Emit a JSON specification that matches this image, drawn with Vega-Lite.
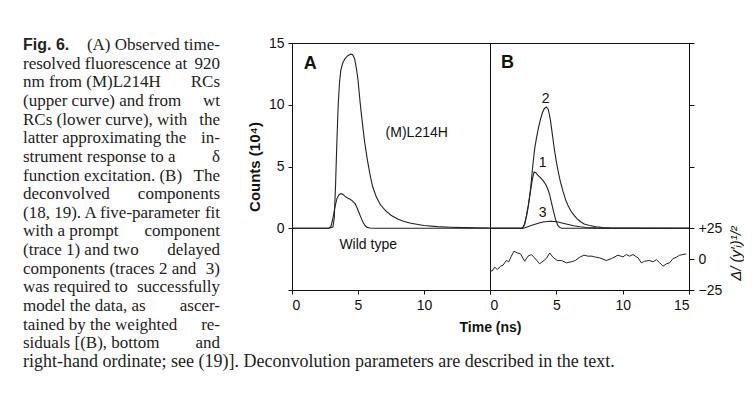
{
  "$schema": "https://vega.github.io/schema/vega-lite/v6.json",
  "background": "white",
  "padding": {"left": 23, "top": 35, "right": 0, "bottom": 0},
  "bounds": "flush",
  "spacing": 0,
  "config": {
    "font": "Liberation Sans",
    "view": {"stroke": "#111", "strokeWidth": 1},
    "axis": {
      "domainColor": "#111", "tickColor": "#111", "labelColor": "#111", "titleColor": "#111",
      "labelFont": "Liberation Sans", "labelFontSize": 14, "grid": false, "tickSize": 4,
      "labelPadding": 4, "titleFont": "Liberation Sans", "titleFontSize": 14, "titleFontWeight": "bold"
    }
  },
  "datasets": {
    "caption": [
      {"line": 1, "lead": "Fig. 6.", "head": "", "tail": "(A) Observed time-", "full": ""},
      {"line": 2, "lead": "", "head": "resolved fluorescence at", "tail": "920", "full": ""},
      {"line": 3, "lead": "", "head": "nm from (M)L214H", "tail": "RCs", "full": ""},
      {"line": 4, "lead": "", "head": "(upper curve) and from", "tail": "wt", "full": ""},
      {"line": 5, "lead": "", "head": "RCs (lower curve), with", "tail": "the", "full": ""},
      {"line": 6, "lead": "", "head": "latter approximating the", "tail": "in-", "full": ""},
      {"line": 7, "lead": "", "head": "strument response to a", "tail": "δ", "full": ""},
      {"line": 8, "lead": "", "head": "function excitation. (B)", "tail": "The", "full": ""},
      {"line": 9, "lead": "", "head": "deconvolved", "tail": "components", "full": ""},
      {"line": 10, "lead": "", "head": "(18, 19). A five-parameter", "tail": "fit", "full": ""},
      {"line": 11, "lead": "", "head": "with a prompt", "tail": "component", "full": ""},
      {"line": 12, "lead": "", "head": "(trace 1) and two", "tail": "delayed", "full": ""},
      {"line": 13, "lead": "", "head": "components (traces 2 and", "tail": "3)", "full": ""},
      {"line": 14, "lead": "", "head": "was required to", "tail": "successfully", "full": ""},
      {"line": 15, "lead": "", "head": "model the data, as", "tail": "ascer-", "full": ""},
      {"line": 16, "lead": "", "head": "tained by the weighted", "tail": "re-", "full": ""},
      {"line": 17, "lead": "", "head": "siduals [(B), bottom", "tail": "and", "full": ""},
      {"line": 18, "lead": "", "head": "", "tail": "", "full": "right-hand ordinate; see (19)]. Deconvolution parameters are described in the text."}
    ],
    "curvesA": [
      {"series": "M", "t": 0, "v": 0}, {"series": "M", "t": 2.8, "v": 0}, {"series": "M", "t": 3.1, "v": 0.1},
      {"series": "M", "t": 3.2, "v": 0.8}, {"series": "M", "t": 3.3, "v": 3.5}, {"series": "M", "t": 3.4, "v": 7.0},
      {"series": "M", "t": 3.5, "v": 10.0}, {"series": "M", "t": 3.6, "v": 11.8}, {"series": "M", "t": 3.7, "v": 12.8},
      {"series": "M", "t": 3.85, "v": 13.4}, {"series": "M", "t": 4.0, "v": 13.7}, {"series": "M", "t": 4.2, "v": 13.95},
      {"series": "M", "t": 4.45, "v": 14.1}, {"series": "M", "t": 4.6, "v": 14.05}, {"series": "M", "t": 4.75, "v": 13.7},
      {"series": "M", "t": 4.9, "v": 12.8}, {"series": "M", "t": 5.0, "v": 12.0}, {"series": "M", "t": 5.15, "v": 10.3},
      {"series": "M", "t": 5.25, "v": 9.3}, {"series": "M", "t": 5.4, "v": 7.9}, {"series": "M", "t": 5.5, "v": 7.0},
      {"series": "M", "t": 5.7, "v": 5.6}, {"series": "M", "t": 5.9, "v": 4.4}, {"series": "M", "t": 6.1, "v": 3.4},
      {"series": "M", "t": 6.4, "v": 2.5}, {"series": "M", "t": 6.7, "v": 1.9}, {"series": "M", "t": 7.1, "v": 1.4},
      {"series": "M", "t": 7.5, "v": 1.05}, {"series": "M", "t": 8.0, "v": 0.75}, {"series": "M", "t": 8.5, "v": 0.55},
      {"series": "M", "t": 9.0, "v": 0.4}, {"series": "M", "t": 10.0, "v": 0.22}, {"series": "M", "t": 11.0, "v": 0.13},
      {"series": "M", "t": 12.0, "v": 0.08}, {"series": "M", "t": 13.0, "v": 0.05}, {"series": "M", "t": 14.0, "v": 0.03},
      {"series": "M", "t": 15.0, "v": 0.02},
      {"series": "W", "t": 0, "v": 0}, {"series": "W", "t": 2.8, "v": 0}, {"series": "W", "t": 2.95, "v": 0.15},
      {"series": "W", "t": 3.1, "v": 0.8}, {"series": "W", "t": 3.25, "v": 1.7}, {"series": "W", "t": 3.4, "v": 2.4},
      {"series": "W", "t": 3.55, "v": 2.7}, {"series": "W", "t": 3.7, "v": 2.8}, {"series": "W", "t": 3.85, "v": 2.75},
      {"series": "W", "t": 4.0, "v": 2.6}, {"series": "W", "t": 4.2, "v": 2.45}, {"series": "W", "t": 4.4, "v": 2.35},
      {"series": "W", "t": 4.6, "v": 2.2}, {"series": "W", "t": 4.8, "v": 1.95}, {"series": "W", "t": 4.95, "v": 1.6},
      {"series": "W", "t": 5.1, "v": 1.2}, {"series": "W", "t": 5.25, "v": 0.8}, {"series": "W", "t": 5.4, "v": 0.45},
      {"series": "W", "t": 5.55, "v": 0.2}, {"series": "W", "t": 5.7, "v": 0.07}, {"series": "W", "t": 5.9, "v": 0.02},
      {"series": "W", "t": 6.2, "v": 0}, {"series": "W", "t": 15, "v": 0}
    ],
    "curvesB": [
      {"series": "1", "t": 0, "v": 0}, {"series": "1", "t": 2.45, "v": 0}, {"series": "1", "t": 2.6, "v": 0.3},
      {"series": "1", "t": 2.75, "v": 1.0}, {"series": "1", "t": 2.9, "v": 1.9}, {"series": "1", "t": 3.05, "v": 3.0},
      {"series": "1", "t": 3.2, "v": 4.0}, {"series": "1", "t": 3.32, "v": 4.55}, {"series": "1", "t": 3.45, "v": 4.5},
      {"series": "1", "t": 3.6, "v": 4.3}, {"series": "1", "t": 3.8, "v": 4.1}, {"series": "1", "t": 4.0, "v": 3.85},
      {"series": "1", "t": 4.2, "v": 3.55}, {"series": "1", "t": 4.35, "v": 3.2}, {"series": "1", "t": 4.5, "v": 2.7},
      {"series": "1", "t": 4.65, "v": 2.0}, {"series": "1", "t": 4.8, "v": 1.3}, {"series": "1", "t": 4.95, "v": 0.7},
      {"series": "1", "t": 5.1, "v": 0.25}, {"series": "1", "t": 5.25, "v": 0.07}, {"series": "1", "t": 5.4, "v": 0},
      {"series": "1", "t": 15, "v": 0},
      {"series": "2", "t": 0, "v": 0}, {"series": "2", "t": 2.45, "v": 0}, {"series": "2", "t": 2.6, "v": 0.3},
      {"series": "2", "t": 2.75, "v": 1.0}, {"series": "2", "t": 2.9, "v": 1.9}, {"series": "2", "t": 3.05, "v": 3.1},
      {"series": "2", "t": 3.2, "v": 4.8}, {"series": "2", "t": 3.35, "v": 6.3}, {"series": "2", "t": 3.5, "v": 7.3},
      {"series": "2", "t": 3.65, "v": 8.1}, {"series": "2", "t": 3.8, "v": 8.8}, {"series": "2", "t": 3.95, "v": 9.35},
      {"series": "2", "t": 4.1, "v": 9.7}, {"series": "2", "t": 4.25, "v": 9.82}, {"series": "2", "t": 4.4, "v": 9.6},
      {"series": "2", "t": 4.55, "v": 8.8}, {"series": "2", "t": 4.7, "v": 7.6}, {"series": "2", "t": 4.85, "v": 6.4},
      {"series": "2", "t": 5.0, "v": 5.4}, {"series": "2", "t": 5.15, "v": 4.55}, {"series": "2", "t": 5.3, "v": 3.8},
      {"series": "2", "t": 5.5, "v": 3.0}, {"series": "2", "t": 5.7, "v": 2.3}, {"series": "2", "t": 5.9, "v": 1.8},
      {"series": "2", "t": 6.1, "v": 1.4}, {"series": "2", "t": 6.3, "v": 1.1}, {"series": "2", "t": 6.55, "v": 0.78},
      {"series": "2", "t": 6.8, "v": 0.55}, {"series": "2", "t": 7.1, "v": 0.35}, {"series": "2", "t": 7.5, "v": 0.22},
      {"series": "2", "t": 8.0, "v": 0.12}, {"series": "2", "t": 8.5, "v": 0.06}, {"series": "2", "t": 9.0, "v": 0.03},
      {"series": "2", "t": 10.0, "v": 0.01}, {"series": "2", "t": 15, "v": 0},
      {"series": "3", "t": 0, "v": 0}, {"series": "3", "t": 2.5, "v": 0}, {"series": "3", "t": 2.8, "v": 0.1},
      {"series": "3", "t": 3.1, "v": 0.22}, {"series": "3", "t": 3.4, "v": 0.33}, {"series": "3", "t": 3.7, "v": 0.42},
      {"series": "3", "t": 4.0, "v": 0.5}, {"series": "3", "t": 4.3, "v": 0.55}, {"series": "3", "t": 4.6, "v": 0.57},
      {"series": "3", "t": 4.9, "v": 0.55}, {"series": "3", "t": 5.2, "v": 0.48}, {"series": "3", "t": 5.5, "v": 0.4},
      {"series": "3", "t": 5.9, "v": 0.3}, {"series": "3", "t": 6.3, "v": 0.2}, {"series": "3", "t": 6.8, "v": 0.12},
      {"series": "3", "t": 7.3, "v": 0.06}, {"series": "3", "t": 7.8, "v": 0.03}, {"series": "3", "t": 8.5, "v": 0},
      {"series": "3", "t": 15, "v": 0}
    ],
    "residuals": [
      {"t": 0.0, "r": -9.2}, {"t": 0.15, "r": -9.7}, {"t": 0.35, "r": -6.5}, {"t": 0.55, "r": -8.4},
      {"t": 0.8, "r": -5.7}, {"t": 0.98, "r": -4.9}, {"t": 1.23, "r": -1.1}, {"t": 1.41, "r": -2.2},
      {"t": 1.61, "r": 2.4}, {"t": 1.81, "r": 6.4}, {"t": 2.06, "r": 5.0}, {"t": 2.31, "r": 4.2},
      {"t": 2.61, "r": -1.7}, {"t": 2.86, "r": 2.4}, {"t": 3.11, "r": 3.7}, {"t": 3.37, "r": 1.0},
      {"t": 3.74, "r": -3.8}, {"t": 3.99, "r": -1.7}, {"t": 4.24, "r": 0.4}, {"t": 4.5, "r": 5.0},
      {"t": 4.75, "r": 1.5}, {"t": 5.07, "r": -1.1}, {"t": 5.38, "r": -1.1}, {"t": 5.75, "r": -3.0},
      {"t": 6.13, "r": -2.2}, {"t": 6.43, "r": -1.1}, {"t": 6.76, "r": 1.5}, {"t": 7.08, "r": 3.2},
      {"t": 7.39, "r": 2.4}, {"t": 7.69, "r": 2.4}, {"t": 7.89, "r": 1.8}, {"t": 8.27, "r": 1.0},
      {"t": 8.77, "r": -1.1}, {"t": 9.15, "r": 0.4}, {"t": 9.65, "r": 3.2}, {"t": 10.02, "r": 1.8},
      {"t": 10.27, "r": 3.7}, {"t": 10.53, "r": 2.4}, {"t": 10.78, "r": 3.7}, {"t": 11.16, "r": 1.0},
      {"t": 11.41, "r": -3.0}, {"t": 11.66, "r": -1.7}, {"t": 12.04, "r": -1.1}, {"t": 12.29, "r": -2.2},
      {"t": 12.54, "r": -0.4}, {"t": 12.79, "r": -3.0}, {"t": 13.04, "r": -5.7}, {"t": 13.29, "r": -3.8},
      {"t": 13.54, "r": -3.0}, {"t": 13.79, "r": 0.4}, {"t": 14.04, "r": 1.5}, {"t": 14.29, "r": 3.2},
      {"t": 14.54, "r": 3.7}, {"t": 14.79, "r": 4.2}
    ],
    "lettersA": [{"t": 1.38, "v": 13.3, "label": "A"}],
    "notesA": [{"t": 9.45, "v": 7.7, "label": "(M)L214H"}, {"t": 5.77, "v": -1.35, "label": "Wild type"}],
    "lettersB": [{"t": 1.32, "v": 13.4, "label": "B"}],
    "notesB": [{"t": 4.2, "v": 10.5, "label": "2"}, {"t": 3.96, "v": 5.3, "label": "1"}, {"t": 3.96, "v": 1.2, "label": "3"}]
  },
  "hconcat": [
    {
      "width": 269,
      "height": 320,
      "view": {"stroke": null},
      "data": {"name": "caption"},
      "layer": [
        {
          "mark": {"type": "text", "align": "left", "baseline": "middle", "font": "Liberation Sans", "fontWeight": "bold", "fontSize": 16, "color": "#222"},
          "encoding": {
            "x": {"datum": 0, "type": "quantitative", "scale": {"domain": [0, 1], "range": [0, 197]}, "axis": null},
            "y": {"field": "line", "type": "quantitative", "scale": {"domain": [1, 18], "range": [2, 319]}, "axis": null},
            "text": {"field": "lead"}
          }
        },
        {
          "mark": {"type": "text", "align": "left", "baseline": "middle", "font": "Liberation Serif", "fontSize": 17, "color": "#222"},
          "encoding": {
            "x": {"datum": 0, "type": "quantitative", "scale": {"domain": [0, 1], "range": [0, 197]}, "axis": null},
            "y": {"field": "line", "type": "quantitative", "scale": {"domain": [1, 18], "range": [2, 319]}, "axis": null},
            "text": {"field": "head"}
          }
        },
        {
          "mark": {"type": "text", "align": "right", "baseline": "middle", "font": "Liberation Serif", "fontSize": 17, "color": "#222"},
          "encoding": {
            "x": {"datum": 1, "type": "quantitative", "scale": {"domain": [0, 1], "range": [0, 197]}, "axis": null},
            "y": {"field": "line", "type": "quantitative", "scale": {"domain": [1, 18], "range": [2, 319]}, "axis": null},
            "text": {"field": "tail"}
          }
        },
        {
          "mark": {"type": "text", "align": "left", "baseline": "middle", "font": "Liberation Serif", "fontSize": 18, "color": "#222"},
          "encoding": {
            "x": {"datum": 0, "type": "quantitative", "scale": {"domain": [0, 1], "range": [0, 197]}, "axis": null},
            "y": {"field": "line", "type": "quantitative", "scale": {"domain": [1, 18], "range": [2, 319]}, "axis": null},
            "text": {"field": "full"}
          }
        }
      ]
    },
    {
      "width": 198,
      "height": 247,
      "layer": [
        {
          "data": {"name": "curvesA"},
          "mark": {"type": "line", "color": "#222", "strokeWidth": 1.1},
          "encoding": {
            "x": {"field": "t", "type": "quantitative", "scale": {"domain": [0, 15], "nice": false},
              "axis": {"values": [0, 5, 10, 15], "labelExpr": "datum.value == 15 ? '' : datum.label", "title": "Time (ns)", "titleAnchor": "end", "titleAlign": "center", "titlePadding": 8}},
            "y": {"field": "v", "type": "quantitative", "scale": {"domain": [-5, 15], "nice": false},
              "axis": {"values": [-5, 0, 5, 10, 15], "labelExpr": "datum.value == -5 ? '' : datum.label", "title": "Counts (10⁴)", "titleFontSize": 15, "titlePadding": 6}},
            "detail": {"field": "series"}
          }
        },
        {
          "data": {"name": "lettersA"},
          "mark": {"type": "text", "font": "Liberation Sans", "fontWeight": "bold", "fontSize": 18, "color": "#111"},
          "encoding": {
            "x": {"field": "t", "type": "quantitative"},
            "y": {"field": "v", "type": "quantitative"},
            "text": {"field": "label"}
          }
        },
        {
          "data": {"name": "notesA"},
          "mark": {"type": "text", "font": "Liberation Sans", "fontSize": 14, "color": "#111"},
          "encoding": {
            "x": {"field": "t", "type": "quantitative"},
            "y": {"field": "v", "type": "quantitative"},
            "text": {"field": "label"}
          }
        }
      ]
    },
    {
      "width": 199,
      "height": 247,
      "layer": [
        {
          "data": {"name": "curvesB"},
          "mark": {"type": "line", "color": "#222", "strokeWidth": 1.1},
          "encoding": {
            "x": {"field": "t", "type": "quantitative", "scale": {"domain": [0, 15], "nice": false},
              "axis": {"values": [0, 5, 10, 15], "title": null}},
            "y": {"field": "v", "type": "quantitative", "scale": {"domain": [-5, 15], "nice": false}, "axis": null},
            "detail": {"field": "series"}
          }
        },
        {
          "data": {"name": "lettersB"},
          "mark": {"type": "text", "font": "Liberation Sans", "fontWeight": "bold", "fontSize": 18, "color": "#111"},
          "encoding": {
            "x": {"field": "t", "type": "quantitative"},
            "y": {"field": "v", "type": "quantitative", "scale": {"domain": [-5, 15], "nice": false}, "axis": null},
            "text": {"field": "label"}
          }
        },
        {
          "data": {"name": "notesB"},
          "mark": {"type": "text", "font": "Liberation Sans", "fontSize": 14, "color": "#111"},
          "encoding": {
            "x": {"field": "t", "type": "quantitative"},
            "y": {"field": "v", "type": "quantitative", "scale": {"domain": [-5, 15], "nice": false}, "axis": null},
            "text": {"field": "label"}
          }
        },
        {
          "data": {"name": "residuals"},
          "mark": {"type": "line", "color": "#222", "strokeWidth": 1},
          "encoding": {
            "x": {"field": "t", "type": "quantitative"},
            "y": {"field": "r", "type": "quantitative", "scale": {"domain": [-25, 175], "nice": false},
              "axis": {"orient": "right", "values": [-25, 0, 25, 75, 125, 175],
                "labelExpr": "datum.value == 25 ? '+25' : datum.value == -25 ? '−25' : datum.value == 0 ? '0' : ''",
                "tickSize": 5, "labelPadding": 4,
                "title": "Δ/ (y′ᵢ)¹/²", "titleFontStyle": "italic", "titleFontWeight": "normal", "titleFontSize": 15,
                "titleAngle": -90, "titleX": 46, "titleY": 210, "titleAlign": "center", "titleBaseline": "middle"}}
          }
        }
      ],
      "resolve": {"scale": {"y": "independent"}}
    }
  ]
}
